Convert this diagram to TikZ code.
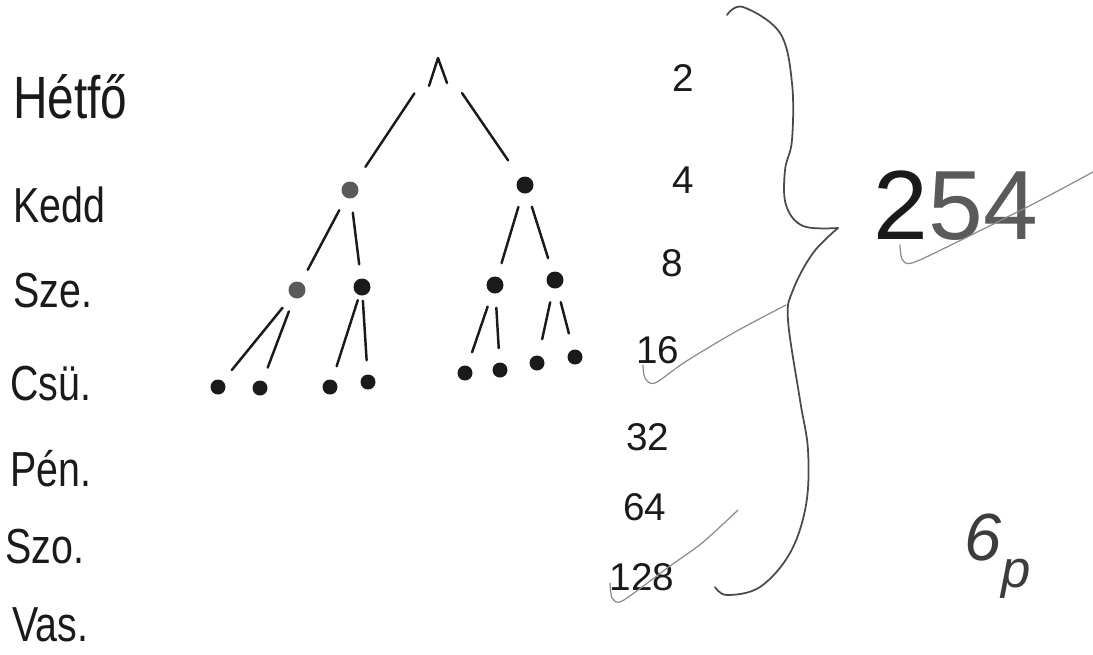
\documentclass[tikz,border=0pt]{standalone}
\usepackage{fontspec}
\setmainfont{Liberation Sans}
\usepackage{graphicx}
\usepackage{xcolor}
\definecolor{ink}{HTML}{1A1A1A}
\definecolor{dimdot}{HTML}{5A5A5A}
\definecolor{bracecol}{HTML}{4A4A4A}
\definecolor{pencil}{HTML}{8C8C8C}
\newcommand{\hand}[1]{\scalebox{0.8}[1]{#1}}
\tikzset{
  day/.style={anchor=base west, inner sep=0pt, text=ink, font=\fontsize{28}{30}\selectfont},
  num/.style={inner sep=0pt, text=ink, font=\fontsize{22}{24}\selectfont},
  dot/.style={circle, fill=ink, inner sep=0pt, minimum size=0.34cm},
  leaf/.style={dot, minimum size=0.3cm},
  edge/.style={ink, line width=1.4pt, line cap=round, shorten <=0.28cm, shorten >=0.28cm},
  pencil line/.style={pencil, line width=0.7pt, line cap=round}
}

\begin{document}
\begin{tikzpicture}[x=0.02cm, y=-0.02cm]
                \useasboundingbox (0,0) rectangle (1093,654);

                % Days
                \node[day, font=\fontsize{34}{36}\selectfont] (hetfo) at (13,118) {\hand{Hétfő}};
                \node[day] (kedd) at (13,222) {\hand{Kedd}};
                \node[day] (sze) at (13,307) {\hand{Sze.}};
                \node[day] (csu) at (10,400) {\hand{Csü.}};
                \node[day] (pen) at (10,486) {\hand{Pén.}};
                \node[day] (szo) at (5,563) {\hand{Szo.}};
                \node[day] (vas) at (12,641) {\hand{Vas.}};

                % Tree
                \coordinate (root) at (438,58);
                \node[dot, fill=dimdot] (a) at (350,190) {};
                \node[dot] (b) at (525,185) {};
                \node[dot, fill=dimdot] (aa) at (297,290) {};
                \node[dot] (ab) at (362,287) {};
                \node[dot] (ba) at (495,285) {};
                \node[dot] (bb) at (555,280) {};
                \node[leaf] (aaa) at (218,387) {};
                \node[leaf] (aab) at (260,388) {};
                \node[leaf] (aba) at (330,387) {};
                \node[leaf] (abb) at (368,382) {};
                \node[leaf] (baa) at (465,373) {};
                \node[leaf] (bab) at (500,370) {};
                \node[leaf] (bba) at (537,363) {};
                \node[leaf] (bbb) at (575,357) {};

                \draw[edge, shorten <=0pt, shorten >=0pt] (root) -- ++(-9,28);
                \draw[edge, shorten <=0pt, shorten >=0pt] (root) -- ++(9,25);
                \draw[edge, shorten <=0.85cm, shorten >=0.38cm] (root) -- (a);
                \draw[edge, shorten <=0.85cm, shorten >=0.42cm] (root) -- (b);
                \draw[edge] (a) -- (aa);
                \draw[edge] (a) -- (ab);
                \draw[edge] (b) -- (ba);
                \draw[edge] (b) -- (bb);
                \draw[edge] (aa) -- (aaa);
                \draw[edge] (aa) -- (aab);
                \draw[edge, shorten <=0.1cm] (ab) -- (aba);
                \draw[edge, shorten <=0.1cm] (ab) -- (abb);
                \draw[edge] (ba) -- (baa);
                \draw[edge] (ba) -- (bab);
                \draw[edge, shorten >=0.33cm] (bb) -- (bba);
                \draw[edge, shorten >=0.33cm] (bb) -- (bbb);

                % Counts
                \node[num] (n2) at (683,78) {2};
                \node[num] (n4) at (683,180) {4};
                \node[num] (n8) at (672,263) {8};
                \node[num] (n16) at (658,350) {16};
                \node[num] (n32) at (648,437) {32};
                \node[num] (n64) at (645,507) {64};
                \node[num] (n128) at (642,577) {128};

                % Brace
                \draw[bracecol, line width=1pt, line cap=round] plot[smooth, tension=0.6] coordinates
                    {(727,15) (743,7) (780,33) (792,83) (792,140) (785,170) (786,205) (803,226) (838,228)};
                \draw[bracecol, line width=1pt, line cap=round] plot[smooth, tension=0.6] coordinates
                    {(838,228) (813,253) (793,290) (788,320) (800,400) (808,450) (806,505) (790,553) (760,587) (727,595) (715,587)};

                % Sum
                \node[inner sep=0pt, text=ink, font=\fontsize{56}{58}\selectfont] (sum) at (956,206) {2\textcolor{dimdot}{54}};
                \node[inner sep=0pt, text=ink!85, font=\fontsize{38}{40}\itshape] (mark) at (998,556) {6\raisebox{-0.4em}{\fontsize{30}{32}\selectfont p}};

                % Pencil strokes
                \draw[pencil line] plot[smooth] coordinates
                    {(786,305) (735,332) (685,362) (655,383) (645,378) (643,365)};
                \draw[pencil line] plot[smooth] coordinates
                    {(900,245) (902,259) (912,263) (953,244) (1033,204) (1093,172)};
                \draw[pencil line] plot[smooth] coordinates
                    {(738,510) (702,543) (670,566) (638,590) (620,602) (612,598) (610,583)};
            \end{tikzpicture}
\end{document}
